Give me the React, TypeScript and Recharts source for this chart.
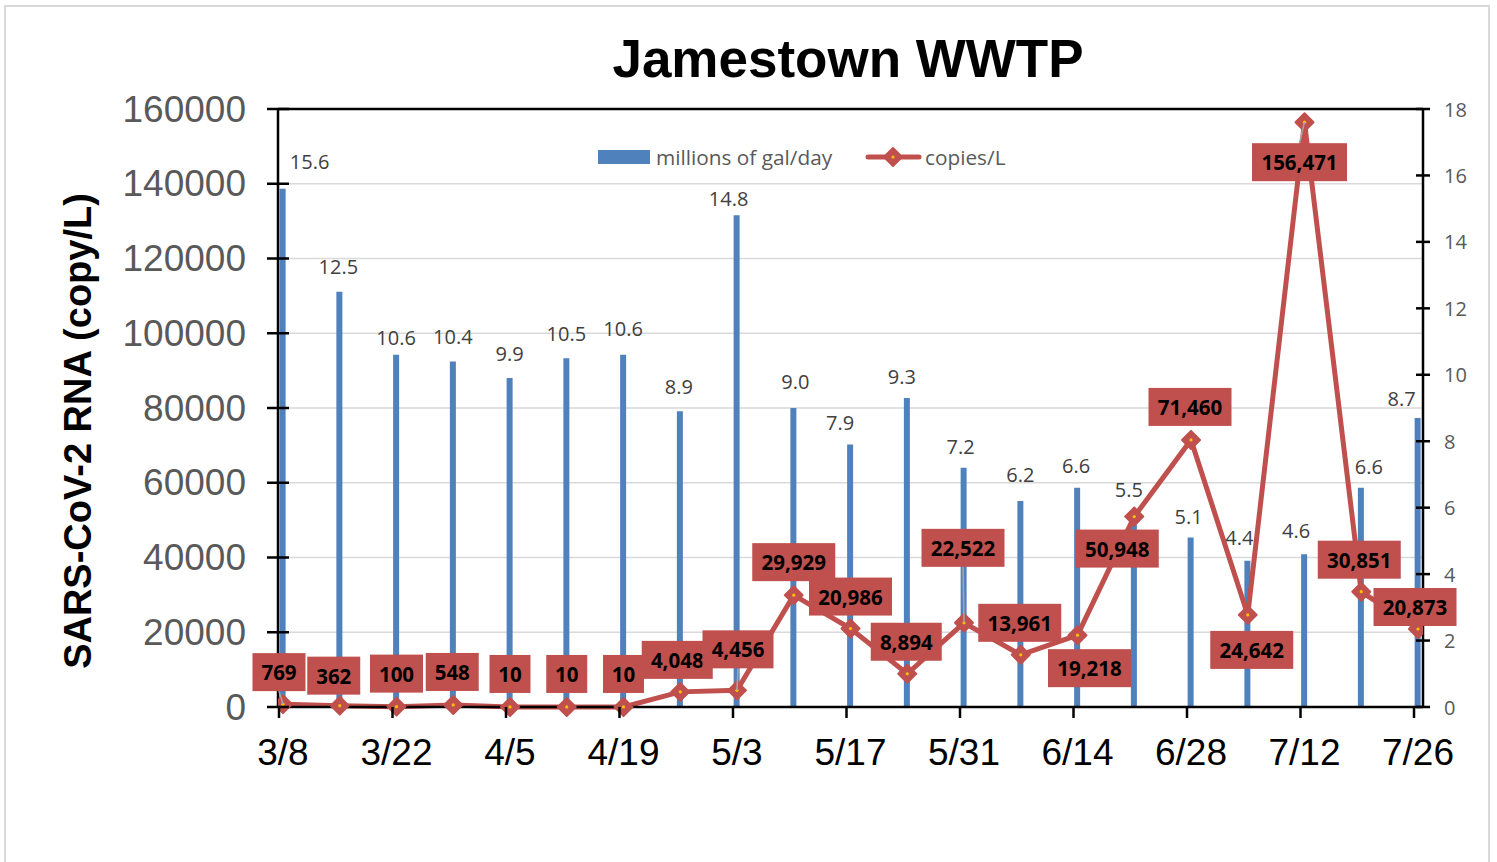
import React from 'react';
import {
  ComposedChart,
  Bar,
  Line,
  XAxis,
  YAxis,
  CartesianGrid,
  ReferenceLine,
  LabelList,
  Legend,
} from 'recharts';

// ---------------- data ----------------
const dates = ['3/8', '3/15', '3/22', '3/29', '4/5', '4/12', '4/19', '4/26', '5/3', '5/10', '5/17', '5/24', '5/31', '6/7', '6/14', '6/21', '6/28', '7/5', '7/12', '7/19', '7/26'];
const flowMgd = [15.6, 12.5, 10.6, 10.4, 9.9, 10.5, 10.6, 8.9, 14.8, 9.0, 7.9, 9.3, 7.2, 6.2, 6.6, 5.5, 5.1, 4.4, 4.6, 6.6, 8.7];
const copiesPerL = [769, 362, 100, 548, 10, 10, 10, 4048, 4456, 29929, 20986, 8894, 22522, 13961, 19218, 50948, 71460, 24642, 156471, 30851, 20873];
const leftTicks = [0, 20000, 40000, 60000, 80000, 100000, 120000, 140000, 160000];
const rightTicks = [0, 2, 4, 6, 8, 10, 12, 14, 16, 18];
const xTickIdx = [0, 2, 4, 6, 8, 10, 12, 14, 16, 18, 20];

const data = dates.map((d, i) => ({ i, date: d, flow: flowMgd[i], copies: copiesPerL[i] }));

// ---------------- layout / style config ----------------
const BLUE = '#4F81BD';
const RED = '#C0504D';
const GREY_TXT = '#595959';
const ARIAL = '"Liberation Sans", Arial, sans-serif';
const CALIBRI = '"Open Sans", "Noto Sans", sans-serif';

// label box centre offset relative to point (dx, dy)
const lineLabelOffset: [number, number][] = [
  [-4, -32], [-6, -30], [0, -33], [-1, -33], [0, -33], [0, -33], [0, -33], [-3, -32],
  [1, -41], [0, -33], [0, -32], [-1, -32], [-1, -75], [-1, -32], [12, 33], [-17, 32],
  [-1, -33], [4, 35], [-5, 40], [-2, -32], [-3, -22],
];
const leaderIdx = new Set([0, 8, 12, 18]);
// bar label centre offset relative to bar top centre (dx, dy)
const barLabelShift: [number, number][] = [
  [27, -27], [-1, -25], [0, -17], [0, -25], [0, -25], [0, -25], [0, -26], [-1, -25],
  [-8, -17], [2, -27], [-10, -22], [-5, -22], [-3, -21], [0, -27], [-1, -22], [-5, -35],
  [-2, -21], [-8, -23], [-8, -24], [8, -21], [-16, -19],
];

const Diamond = ({ cx, cy, r = 9 }: { cx: number; cy: number; r?: number }) => (
  <g>
    <polygon
      points={`${cx},${cy - r} ${cx + r},${cy} ${cx},${cy + r} ${cx - r},${cy}`}
      fill={RED}
      stroke={RED}
      strokeWidth={2}
      strokeLinejoin="round"
    />
    <circle cx={cx} cy={cy} r={1.6} fill="#FFC000" />
  </g>
);

const renderDot = (props: any) => {
  const { cx, cy, index } = props;
  if (cx == null || cy == null) return <g key={`d${index}`} />;
  return (
    <g key={`d${index}`}>
      <Diamond cx={cx} cy={cy} />
    </g>
  );
};

const LineLabel = (props: any) => {
  const { x, y, value, index } = props;
  if (x == null || y == null) return null;
  const text = Number(value).toLocaleString('en-US');
  const digits = text.replace(/,/g, '').length;
  const commas = text.length - digits;
  const w = digits * 12 + commas * 6 + 17;
  const h = 38;
  const [dx, dy] = lineLabelOffset[index] || [0, -33];
  const bx = x + dx;
  const by = y + dy;
  let leader = null;
  if (leaderIdx.has(index)) {
    const ey = dy < 0 ? by + h / 2 : by - h / 2;
    leader = <line x1={x} y1={y} x2={bx} y2={ey} stroke="#A6A6A6" strokeWidth={1.5} />;
  }
  return (
    <g>
      {leader}
      <rect x={bx - w / 2} y={by - h / 2} width={w} height={h} fill={RED} />
      <text
        x={bx}
        y={by}
        textAnchor="middle"
        dominantBaseline="central"
        fontFamily={CALIBRI}
        fontWeight={700}
        fontSize={20.5}
        fill="#000"
      >
        {text}
      </text>
    </g>
  );
};

const BarLabel = (props: any) => {
  const { x, y, width, value, index } = props;
  if (x == null || y == null) return null;
  const [dx, dy] = barLabelShift[index] || [0, -25];
  return (
    <text
      x={x + width / 2 + dx}
      y={y + dy}
      textAnchor="middle"
      dominantBaseline="central"
      fontFamily={CALIBRI}
      fontSize={20}
      fill="#404040"
    >
      {Number(value).toFixed(1)}
    </text>
  );
};

const XTick = (props: any) => {
  const { x, y, payload } = props;
  const label = dates[payload.value];
  return (
    <g>
      <line x1={x - 4} x2={x - 4} y1={y} y2={y + 11} stroke="#000" strokeWidth={2.5} />
      <text x={x} y={y + 58} textAnchor="middle" fontFamily={ARIAL} fontSize={37} fill="#000">
        {label}
      </text>
    </g>
  );
};

const LeftTick = (props: any) => {
  const { x, y, payload } = props;
  return (
    <g>
      <line x1={x - 11} x2={x + 11} y1={y} y2={y} stroke="#000" strokeWidth={2.5} />
      <text x={x - 32} y={y} textAnchor="end" dominantBaseline="central" fontFamily={ARIAL} fontSize={37} fill={GREY_TXT}>
        {payload.value}
      </text>
    </g>
  );
};

const RightTick = (props: any) => {
  const { x, y, payload } = props;
  return (
    <g>
      <line x1={x - 7} x2={x + 7} y1={y} y2={y} stroke="#000" strokeWidth={2.5} />
      <text x={x + 21} y={y} textAnchor="start" dominantBaseline="central" fontFamily={CALIBRI} fontSize={20} fill={GREY_TXT}>
        {payload.value}
      </text>
    </g>
  );
};

const LegendContent = (props: any) => {
  const payload: any[] = props.payload || [];
  const barItem = payload.find((p) => p.dataKey === 'flow');
  const lineItem = payload.find((p) => p.dataKey === 'copies');
  return (
    <svg width={440} height={34} style={{ overflow: 'visible', display: 'block' }}>
      <rect x={2} y={10} width={52} height={14} fill={BLUE} />
      <text x={60} y={17} dominantBaseline="central" fontFamily={CALIBRI} fontSize={20.8} fill={GREY_TXT}>
        {barItem ? barItem.value : 'millions of gal/day'}
      </text>
      <line x1={272} x2={323} y1={17} y2={17} stroke={RED} strokeWidth={5} strokeLinecap="round" />
      <Diamond cx={297} cy={17} r={9} />
      <text x={329} y={17} dominantBaseline="central" fontFamily={CALIBRI} fontSize={20.8} fill={GREY_TXT}>
        {lineItem ? lineItem.value : 'copies/L'}
      </text>
    </svg>
  );
};

export default function App() {
  return (
    <div style={{ position: 'absolute', left: 0, top: 0, width: 1497, height: 862, background: '#fff' }}>
      <ComposedChart
        width={1497}
        height={862}
        data={data}
        margin={{ top: 109, right: 14, bottom: 75, left: 158 }}
      >
        <CartesianGrid yAxisId="left" vertical={false} stroke="#D9D9D9" strokeWidth={1.5} />
        <XAxis
          type="number"
          dataKey="i"
          domain={[-0.088, 20.088]}
          allowDataOverflow
          ticks={xTickIdx}
          interval={0}
          tick={<XTick />}
          tickLine={false}
          tickSize={0}
          tickMargin={0}
          height={80}
          axisLine={{ stroke: '#000', strokeWidth: 2.5 }}
        />
        <YAxis
          yAxisId="left"
          orientation="left"
          domain={[0, 160000]}
          ticks={leftTicks}
          interval={0}
          width={120}
          tick={<LeftTick />}
          tickLine={false}
          tickSize={0}
          tickMargin={0}
          axisLine={{ stroke: '#000', strokeWidth: 2.5 }}
        />
        <YAxis
          yAxisId="right"
          orientation="right"
          domain={[0, 18]}
          ticks={rightTicks}
          interval={0}
          width={60}
          tick={<RightTick />}
          tickLine={false}
          tickSize={0}
          tickMargin={0}
          axisLine={{ stroke: '#000', strokeWidth: 2.5 }}
        />
        <ReferenceLine yAxisId="left" y={160000} stroke="#000" strokeWidth={2.5} />
        <Legend
          layout="horizontal"
          verticalAlign="middle"
          align="center"
          wrapperStyle={{ top: 140, left: 596, width: 440, height: 34 }}
          content={<LegendContent />}
        />
        <Bar
          yAxisId="right"
          dataKey="flow"
          name="millions of gal/day"
          fill={BLUE}
          barSize={6}
          isAnimationActive={false}
        >
          <LabelList dataKey="flow" content={<BarLabel />} />
        </Bar>
        <Line
          yAxisId="left"
          dataKey="copies"
          name="copies/L"
          stroke={RED}
          strokeWidth={5}
          dot={renderDot}
          activeDot={false}
          isAnimationActive={false}
        >
          <LabelList dataKey="copies" content={<LineLabel />} />
        </Line>
      </ComposedChart>
      <svg
        width={1497}
        height={862}
        style={{ position: 'absolute', left: 0, top: 0, pointerEvents: 'none' }}
      >
        <rect x={5} y={6} width={1484} height={880} fill="none" stroke="#D9D9D9" strokeWidth={2} />
        <text x={848} y={77} textAnchor="middle" fontFamily={ARIAL} fontWeight={700} fontSize={53} fill="#000">
          Jamestown WWTP
        </text>
        <text
          x={78}
          y={431}
          textAnchor="middle"
          dominantBaseline="central"
          transform="rotate(-90, 78, 431)"
          fontFamily={ARIAL}
          fontWeight={700}
          fontSize={38}
          fill="#000"
        >
          SARS-CoV-2 RNA (copy/L)
        </text>
      </svg>
    </div>
  );
}
